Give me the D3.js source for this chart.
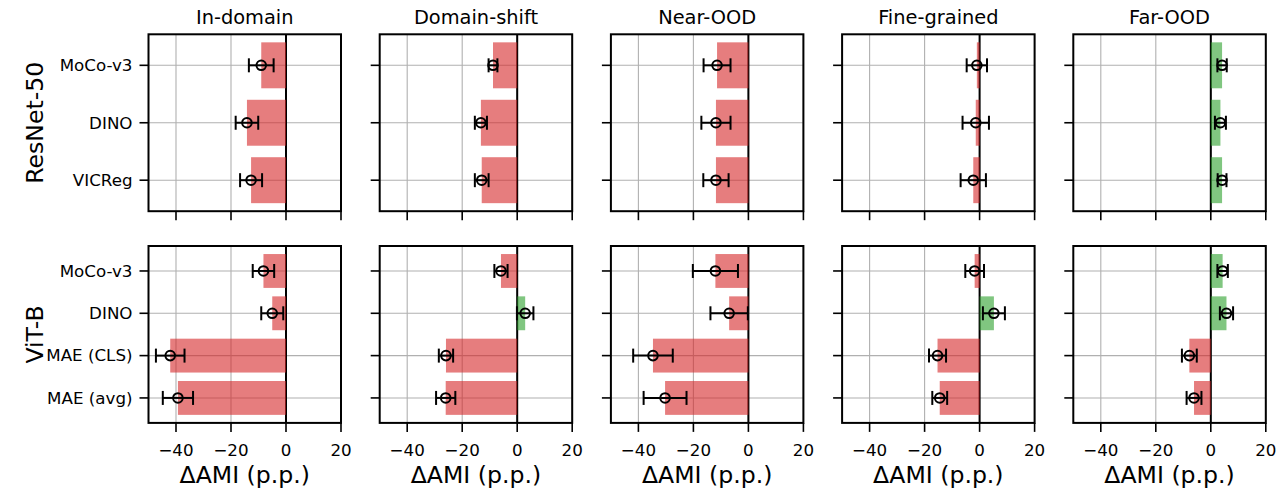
<!DOCTYPE html>
<html><head><meta charset="utf-8">
<script src="https://cdn.jsdelivr.net/npm/d3@7"></script>
<style>body{margin:0;background:#fff}svg{display:block;font-family:"DejaVu Sans",sans-serif}</style>
</head><body><svg id="c" width="1281" height="488"></svg>
<script>
const tasks = ["In-domain","Domain-shift","Near-OOD","Fine-grained","Far-OOD"];
const rowLabels = ["ResNet-50","ViT-B"];
const resnetModels = ["MoCo-v3","DINO","VICReg"];
const vitModels = ["MoCo-v3","DINO","MAE (CLS)","MAE (avg)"];
const xTicks = [-40,-20,0,20];
const xDomain = [-50,20];
// ΔAMI per task (rows = tasks, columns = models)
const resnetMean = [[-9.0,-14.2,-12.7],[-8.8,-13.2,-12.9],[-11.4,-11.8,-11.8],[-1.0,-1.4,-2.3],[4.1,3.5,4.1]];
const resnetErr  = [[4.5,4.1,4.0],[1.6,2.2,2.5],[4.9,5.3,4.6],[3.7,4.8,4.6],[1.7,2.0,1.6]];
const vitMean = [[-8.2,-5.0,-42.1,-39.3],[-5.9,2.9,-25.9,-26.0],[-12.0,-7.0,-34.7,-30.3],[-1.8,5.2,-15.3,-14.5],[4.3,5.7,-7.8,-6.1]];
const vitErr  = [[3.9,4.0,5.2,5.5],[2.4,3.0,2.6,3.5],[8.2,6.8,7.2,7.8],[3.4,4.0,3.1,2.7],[1.9,2.4,2.7,2.7]];

const svg = d3.select("#c");
const left0 = 148.5, step = 231.2, pw = 192.5;
const rowTop = [34.3, 246], ph = 176.9;
const rows = [
  {models: resnetModels, mean: resnetMean, err: resnetErr},
  {models: vitModels, mean: vitMean, err: vitErr}
];
const red = "#d62728", green = "#2ca02c";
const gridC = "#b0b0b0";

rows.forEach((row, r) => {
  const n = row.models.length;
  const span = (n - 1) + 0.8, m = 0.05 * span;
  const y = d3.scaleLinear().domain([-0.4 - m, n - 1 + 0.4 + m]).range([rowTop[r], rowTop[r] + ph]);
  tasks.forEach((t, c) => {
    const x0 = left0 + c * step;
    const x = d3.scaleLinear().domain(xDomain).range([x0, x0 + pw]);
    const g = svg.append("g");
    // grid
    g.selectAll(".gx").data(xTicks).join("line")
      .attr("x1", d => x(d)).attr("x2", d => x(d))
      .attr("y1", rowTop[r]).attr("y2", rowTop[r] + ph)
      .attr("stroke", gridC).attr("stroke-width", 1.1);
    g.selectAll(".gy").data(d3.range(n)).join("line")
      .attr("x1", x0).attr("x2", x0 + pw)
      .attr("y1", d => y(d)).attr("y2", d => y(d))
      .attr("stroke", gridC).attr("stroke-width", 1.1);
    // zero line
    g.append("line").attr("x1", x(0)).attr("x2", x(0))
      .attr("y1", rowTop[r]).attr("y2", rowTop[r] + ph)
      .attr("stroke", "#000").attr("stroke-width", 2);
    const vals = row.mean[c], errs = row.err[c];
    // bars
    g.selectAll(".bar").data(vals).join("rect")
      .attr("x", d => x(Math.min(0, d))).attr("width", d => Math.abs(x(d) - x(0)))
      .attr("y", (d, i) => y(i - 0.4)).attr("height", y(0.8) - y(0))
      .attr("fill", d => d < 0 ? red : green).attr("fill-opacity", 0.6);
    // error bars
    vals.forEach((v, i) => {
      const e = errs[i], yy = y(i);
      g.append("line").attr("x1", x(v - e)).attr("x2", x(v + e)).attr("y1", yy).attr("y2", yy)
        .attr("stroke", "#000").attr("stroke-width", 2);
      [v - e, v + e].forEach(xe => g.append("line").attr("x1", x(xe)).attr("x2", x(xe))
        .attr("y1", yy - 7).attr("y2", yy + 7).attr("stroke", "#000").attr("stroke-width", 2));
      g.append("circle").attr("cx", x(v)).attr("cy", yy).attr("r", 4.8)
        .attr("fill", "none").attr("stroke", "#000").attr("stroke-width", 2);
    });
    // spines
    g.append("rect").attr("x", x0).attr("y", rowTop[r]).attr("width", pw).attr("height", ph)
      .attr("fill", "none").attr("stroke", "#000").attr("stroke-width", 2);
    // x ticks
    g.selectAll(".tx").data(xTicks).join("line")
      .attr("x1", d => x(d)).attr("x2", d => x(d))
      .attr("y1", rowTop[r] + ph).attr("y2", rowTop[r] + ph + 9)
      .attr("stroke", "#000").attr("stroke-width", 1.6);
    if (r === rows.length - 1) {
      g.selectAll(".tl").data(xTicks).join("text")
        .attr("x", d => x(d)).attr("y", rowTop[r] + ph + 32.7)
        .attr("text-anchor", "middle").attr("font-size", 16.7)
        .text(d => d < 0 ? "\u2212" + Math.abs(d) : d);
      g.append("text").attr("x", x0 + pw / 2).attr("y", 483)
        .attr("text-anchor", "middle").attr("font-size", 23.6).text("\u0394AMI (p.p.)");
    }
    // y ticks
    g.selectAll(".ty").data(d3.range(n)).join("line")
      .attr("x1", x0 - 9).attr("x2", x0)
      .attr("y1", d => y(d)).attr("y2", d => y(d))
      .attr("stroke", "#000").attr("stroke-width", 1.6);
    if (c === 0) {
      g.selectAll(".yl").data(row.models).join("text")
        .attr("x", x0 - 16).attr("y", (d, i) => y(i)).attr("dy", "0.35em")
        .attr("text-anchor", "end").attr("font-size", 16.7).text(d => d);
    }
    if (r === 0) {
      g.append("text").attr("x", x0 + pw / 2).attr("y", 24.3)
        .attr("text-anchor", "middle").attr("font-size", 19.4).text(t);
    }
  });
  svg.append("text").attr("transform", `translate(43,${rowTop[r] + ph / 2}) rotate(-90)`)
    .attr("text-anchor", "middle").attr("font-size", 23.6).text(rowLabels[r]);
});
</script></body></html>
